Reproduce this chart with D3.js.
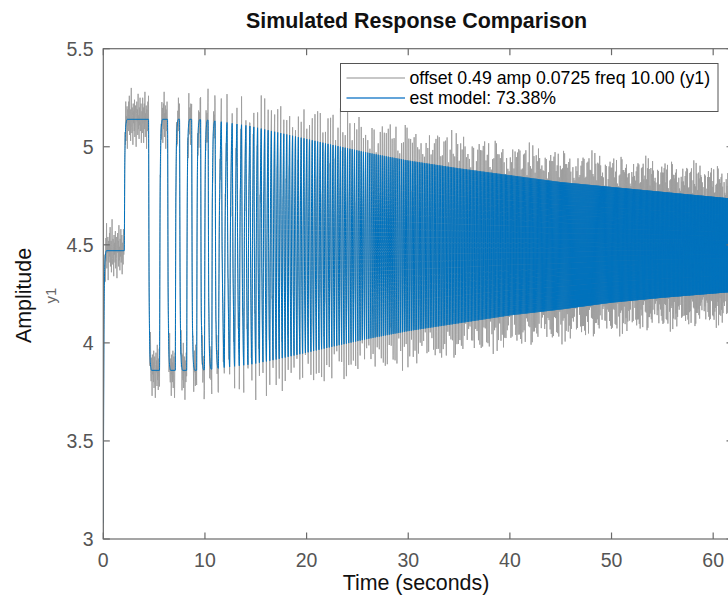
<!DOCTYPE html>
<html>
<head>
<meta charset="utf-8">
<script src="https://cdn.jsdelivr.net/npm/d3@7"></script>
<style>
  body { margin: 0; background: #fff; }
  svg { display: block; font-family: "Liberation Sans", Arial, sans-serif; }
</style>
</head>
<body>
<svg id="chart" width="728" height="599"></svg>
<script>
// ---- values ----
const xTicks = [0, 10, 20, 30, 40, 50, 60]
const yTicks = [3, 3.5, 4, 4.5, 5, 5.5]
const tMax = 61.95

// model output at t = 0 and the offset level it settles on before the first pulse
const startLevel = 3.08
const offsetLevel = 4.47

// rising / falling switch instants of the pulses that can still be told apart
const riseEdges = [2.06, 5.53, 7.08, 8.20, 9.18, 9.95, 10.67, 11.32, 11.90, 12.43, 12.92, 13.38, 13.82,
  14.23, 14.62, 15.00, 15.36, 15.71, 16.05, 16.38, 16.70, 17.01, 17.31, 17.61, 17.90]
const fallEdges = [4.45, 6.32, 7.50, 8.69, 9.57, 10.31, 11.00, 11.61, 12.17, 12.68, 13.15, 13.60, 14.03,
  14.43, 14.81, 15.18, 15.54, 15.88, 16.22, 16.54, 16.86, 17.16, 17.46, 17.76, 18.05]

// local period of the dense part of the sweep (seconds)
const periodT = [18.2, 22, 26, 30, 35, 40, 45, 50, 55, 62]
const periodS = [0.29, 0.25, 0.21, 0.175, 0.145, 0.12, 0.104, 0.091, 0.081, 0.071]

// upper / lower envelope of the model output
const envT = [0, 9, 10.5, 12, 14.5, 17, 20, 22.5, 26, 30, 35, 40, 45, 50, 55, 62]
const envHigh = [5.14, 5.14, 5.135, 5.125, 5.105, 5.075, 5.04, 5.01, 4.97, 4.93, 4.89, 4.855, 4.82, 4.795, 4.77, 4.735]
const envLow = [3.86, 3.86, 3.865, 3.875, 3.89, 3.915, 3.95, 3.98, 4.02, 4.06, 4.1, 4.14, 4.17, 4.205, 4.23, 4.26]

// how far the measured peaks overshoot the model envelope
const marginT = [0, 5, 10, 15, 20, 30, 40, 50, 62]
const marginV = [0, 0.03, 0.07, 0.09, 0.1, 0.1, 0.085, 0.08, 0.08]

// measurement noise on the measured output, as seen around the plateaus
const noise = [0.04, -0.07, 0.11, -0.02, 0.06, -0.12, 0.01, 0.08, -0.05, 0.14, -0.09, 0.03, -0.01, 0.07,
  -0.15, 0.05, 0.02, -0.06, 0.09, -0.03, 0.12, -0.08, 0.0, 0.05, -0.11, 0.03, 0.16, -0.04, -0.07, 0.06,
  0.02, -0.13, 0.08, -0.02, 0.04, -0.06, 0.1, -0.09, 0.01, 0.07, -0.04, -0.14, 0.03, 0.09, -0.01, 0.05,
  -0.08, 0.13, -0.05, 0.02, -0.1, 0.06, -0.03, 0.11, -0.06, 0.0, 0.08, -0.12, 0.04]

const legendLabels = ['offset 0.49 amp 0.0725 freq 10.00 (y1)', 'est model: 73.38%']
const seriesColors = ['#9d9d9d', '#0072BD']

// ---- layout ----
const plotLeft = 103.3, plotRight = 733, plotTop = 48.7, plotBottom = 539
const svg = d3.select('#chart')

const x = d3.scaleLinear().domain([0, tMax]).range([plotLeft, plotRight])
const y = d3.scaleLinear().domain([3, 5.5]).range([plotBottom, plotTop])
const period = d3.scaleLinear().domain(periodT).range(periodS).clamp(true)
const hiLevel = d3.scaleLinear().domain(envT).range(envHigh).clamp(true)
const loLevel = d3.scaleLinear().domain(envT).range(envLow).clamp(true)
const margin = d3.scaleLinear().domain(marginT).range(marginV).clamp(true)

// switching events of the input
const events = [{ t: 0, hi: null }]
riseEdges.forEach((r, i) => {
  events.push({ t: r, hi: true })
  events.push({ t: fallEdges[i], hi: false })
})
let tc = riseEdges[riseEdges.length - 1] + period(riseEdges[riseEdges.length - 1])
while (tc < tMax) {
  const p = period(tc)
  events.push({ t: tc, hi: true })
  if (tc + p / 2 < tMax) events.push({ t: tc + p / 2, hi: false })
  tc += p
}

// model output vertices: each half cycle heads to its envelope level
const blue = [[0, startLevel]]
let level = startLevel
events.forEach((ev, i) => {
  const s = ev.t
  const e = i + 1 < events.length ? events[i + 1].t : tMax
  const b = ev.hi === null ? offsetLevel : (ev.hi ? hiLevel(e) : loLevel(e))
  const a = level
  const h = e - s
  if (h >= 0.3) {
    blue.push([s + 0.05, a + 0.62 * (b - a)], [s + 0.1, a + 0.86 * (b - a)],
      [s + 0.18, a + 0.97 * (b - a)], [s + 0.3, b], [e, b])
  } else {
    blue.push([s + 0.3 * h, a + 0.55 * (b - a)], [s + 0.6 * h, a + 0.82 * (b - a)], [e, b])
  }
  level = b
})

// measured output: model plus noise, sampled densely and at every peak
const bis = d3.bisector(d => d[0]).left
function blueAt (t) {
  const i = Math.min(Math.max(bis(blue, t), 1), blue.length - 1)
  const p0 = blue[i - 1], p1 = blue[i]
  const f = p1[0] === p0[0] ? 1 : (t - p0[0]) / (p1[0] - p0[0])
  return p0[1] + Math.max(0, Math.min(1, f)) * (p1[1] - p0[1])
}
const grayPlain = d3.range(0.032, tMax, 0.032)
  .map((t, j) => [t, blueAt(t) + noise[j % noise.length]])
const grayPeaks = events.slice(2).map((ev, j) => {
  const sign = events[j + 1].hi ? 1 : -1
  return [ev.t, blueAt(ev.t) + sign * (margin(ev.t) + 0.6 * noise[(j * 7) % noise.length])]
})
const gray = [[0, 3.0]].concat(grayPlain, grayPeaks).sort((a, b) => a[0] - b[0])

// ---- drawing ----
svg.append('clipPath').attr('id', 'plot-clip')
  .append('rect').attr('x', plotLeft).attr('y', plotTop)
  .attr('width', plotRight - plotLeft).attr('height', plotBottom - plotTop)

const plot = svg.append('g').attr('clip-path', 'url(#plot-clip)')
const line = d3.line().x(d => x(d[0])).y(d => y(d[1]))

plot.append('path')
  .attr('d', line(gray))
  .attr('fill', 'none')
  .attr('stroke', seriesColors[0])
  .attr('stroke-width', 0.9)

plot.append('path')
  .attr('d', line.curve(d3.curveMonotoneX)(blue))
  .attr('fill', 'none')
  .attr('stroke', seriesColors[1])
  .attr('stroke-width', 1)

// axes box with inward ticks on all sides
const axisColor = '#6a6a6a'
const tickLen = 6.5
const box = svg.append('g').attr('stroke', axisColor).attr('stroke-width', 1.2).attr('fill', 'none')
box.append('rect').attr('x', plotLeft).attr('y', plotTop)
  .attr('width', plotRight - plotLeft).attr('height', plotBottom - plotTop)
xTicks.forEach(v => {
  box.append('line').attr('x1', x(v)).attr('x2', x(v)).attr('y1', plotBottom).attr('y2', plotBottom - tickLen)
  box.append('line').attr('x1', x(v)).attr('x2', x(v)).attr('y1', plotTop).attr('y2', plotTop + tickLen)
})
yTicks.forEach(v => {
  box.append('line').attr('x1', plotLeft).attr('x2', plotLeft + tickLen).attr('y1', y(v)).attr('y2', y(v))
  box.append('line').attr('x1', plotRight).attr('x2', plotRight - tickLen).attr('y1', y(v)).attr('y2', y(v))
})

svg.append('g').selectAll('text').data(xTicks).join('text')
  .attr('x', d => x(d))
  .attr('y', 566.5)
  .attr('text-anchor', 'middle')
  .style('font-size', '19.5px')
  .style('fill', '#555')
  .text(d => d)

svg.append('g').selectAll('text').data(yTicks).join('text')
  .attr('x', 93.5)
  .attr('y', d => y(d))
  .attr('dy', '0.36em')
  .attr('text-anchor', 'end')
  .style('font-size', '19.5px')
  .style('fill', '#555')
  .text(d => d)

// labels and title
svg.append('text')
  .attr('x', 416).attr('y', 590)
  .attr('text-anchor', 'middle')
  .style('font-size', '21.4px')
  .style('fill', '#111')
  .text('Time (seconds)')

svg.append('text')
  .attr('transform', 'translate(30.5,295.5) rotate(-90)')
  .attr('text-anchor', 'middle')
  .style('font-size', '21.4px')
  .style('fill', '#111')
  .text('Amplitude')

svg.append('text')
  .attr('transform', 'translate(56,295.5) rotate(-90)')
  .attr('text-anchor', 'middle')
  .style('font-size', '15px')
  .style('fill', '#666')
  .text('y1')

svg.append('text')
  .attr('x', 416.5).attr('y', 27.5)
  .attr('text-anchor', 'middle')
  .style('font-size', '21.4px')
  .style('font-weight', 'bold')
  .style('fill', '#111')
  .text('Simulated Response Comparison')

// legend
const legendStroke = ['#b4b4b4', '#2f86cc']
const legend = svg.append('g')
legend.append('rect')
  .attr('x', 340.5).attr('y', 63.5).attr('width', 377.5).attr('height', 48)
  .attr('fill', '#fff').attr('stroke', '#555').attr('stroke-width', 1)
legendLabels.forEach((label, i) => {
  const ly = 78 + i * 20
  legend.append('path')
    .attr('d', `M346.5,${ly}H405`)
    .attr('fill', 'none')
    .attr('stroke', legendStroke[i])
    .attr('stroke-width', 1.5)
  legend.append('text')
    .attr('x', 409.5).attr('y', ly).attr('dy', '0.35em')
    .style('font-size', '17.7px')
    .style('fill', '#000')
    .text(label)
})
</script>
</body>
</html>
